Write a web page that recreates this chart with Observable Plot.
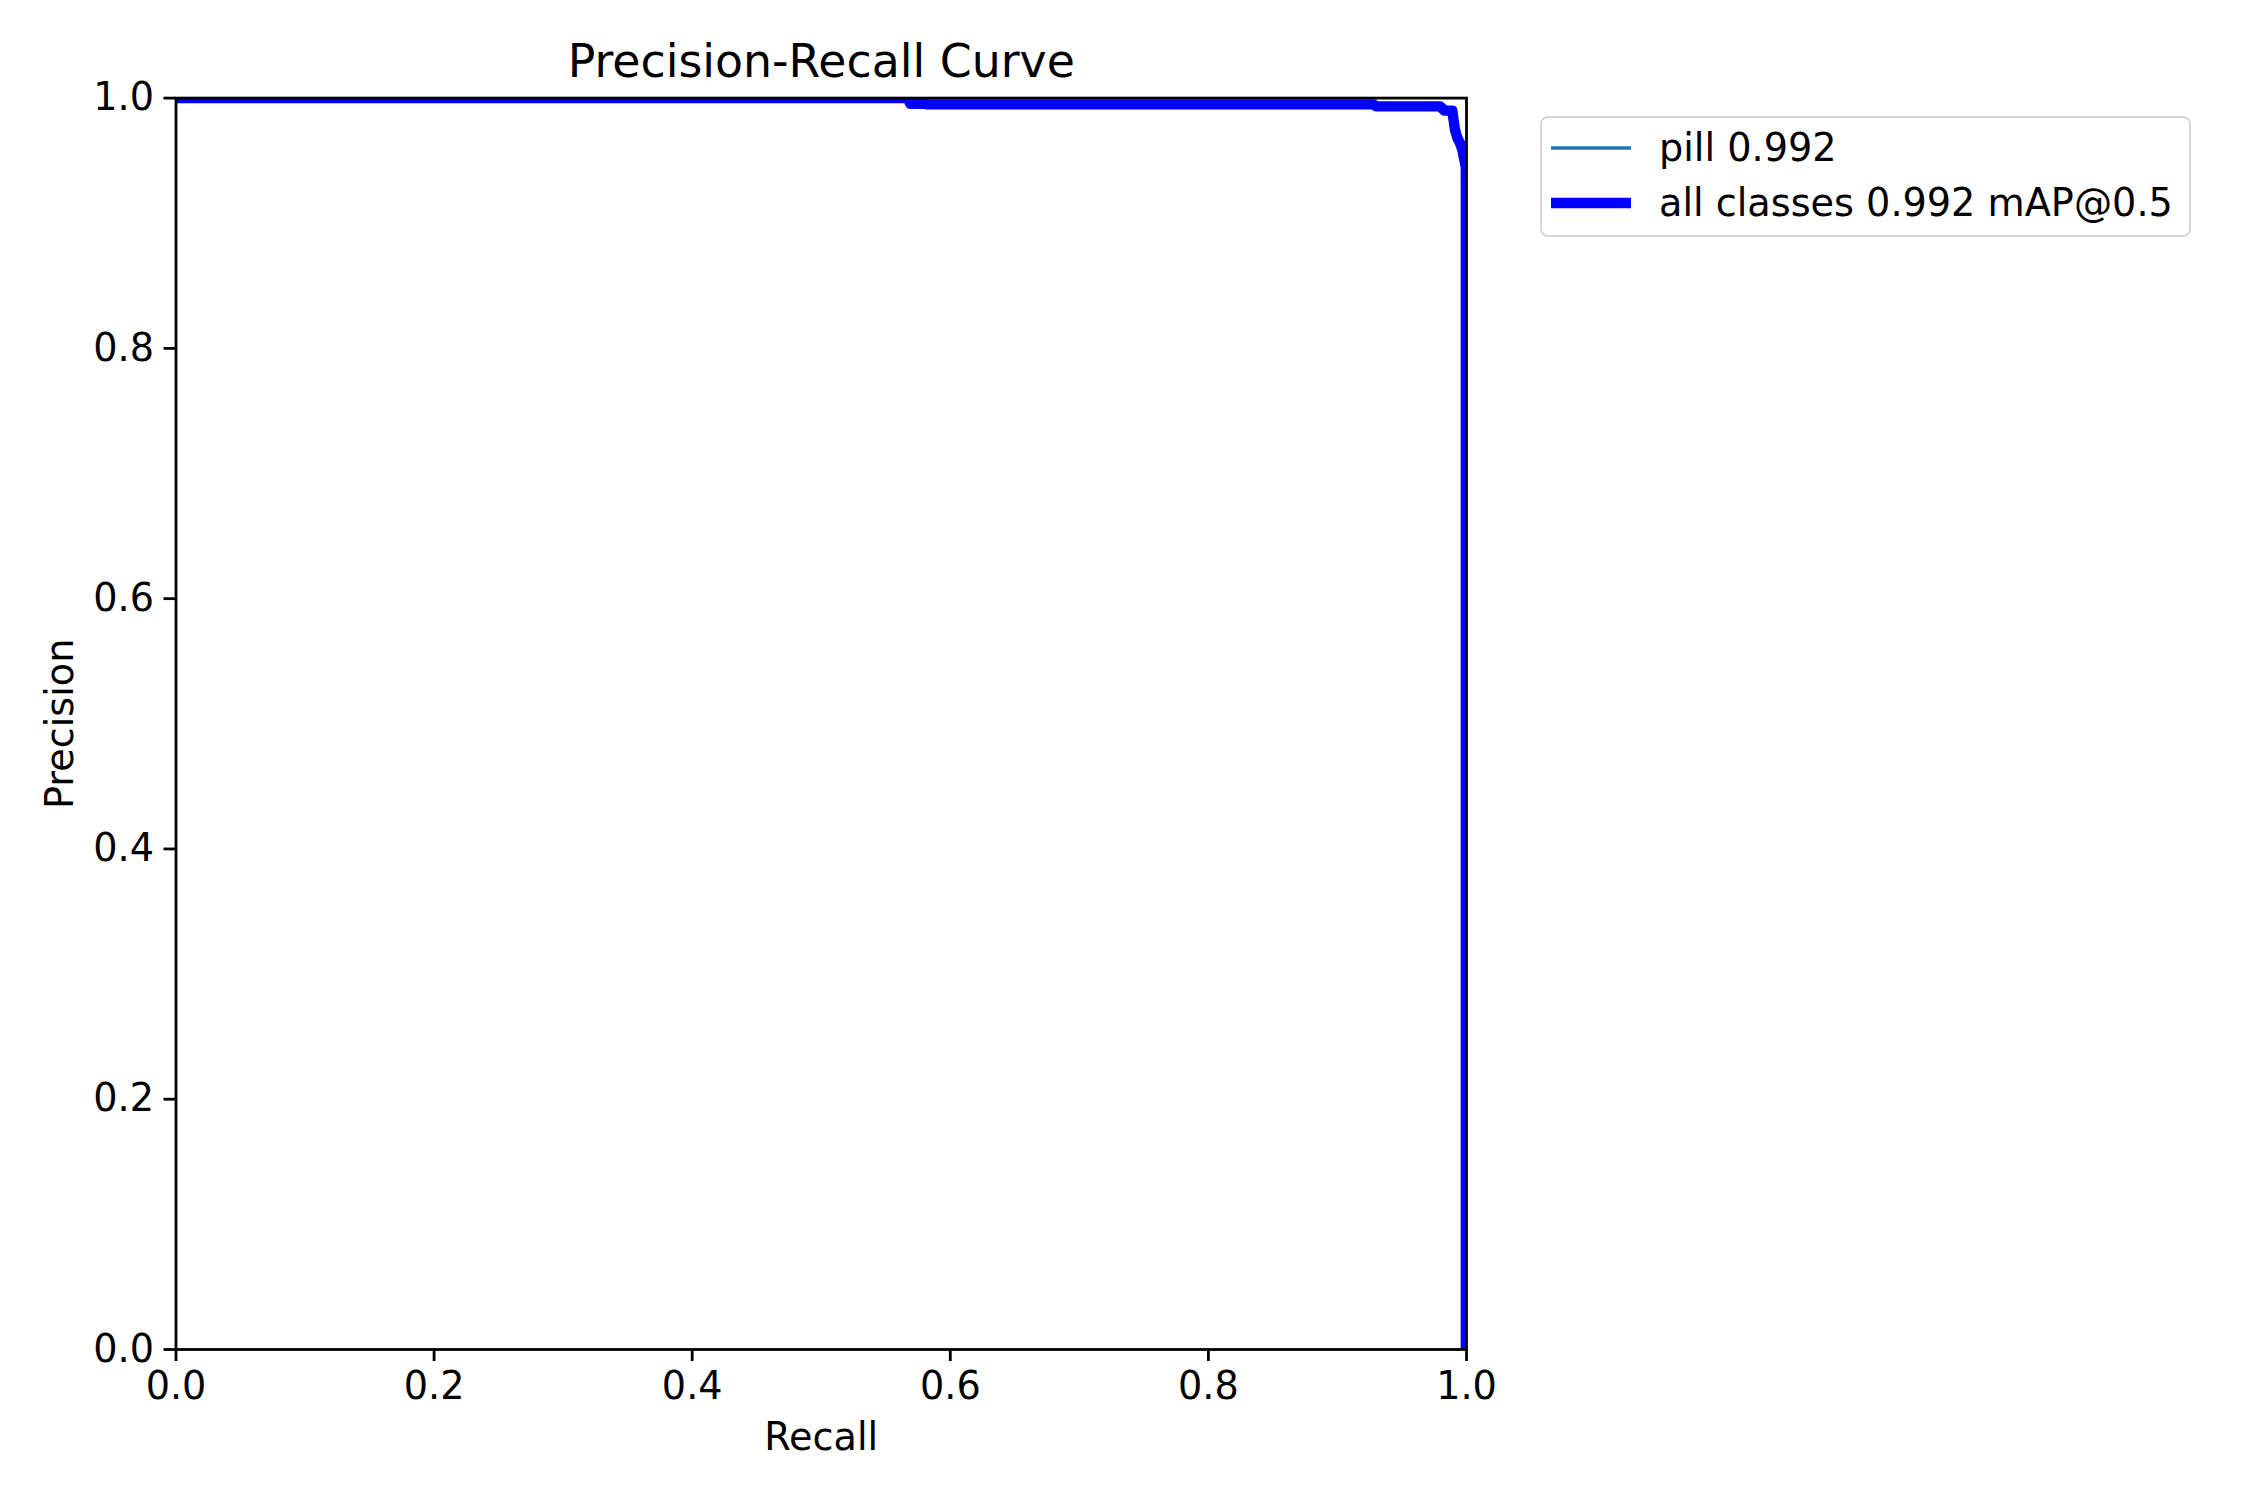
<!DOCTYPE html>
<html>
<head>
<meta charset="utf-8">
<script src="https://cdn.jsdelivr.net/npm/d3@7"></script>
<script src="https://cdn.jsdelivr.net/npm/@observablehq/plot@0.6"></script>
<style>
  html, body { margin: 0; padding: 0; background: white; }
  #wrap { position: relative; width: 2250px; height: 1500px; font-family: "DejaVu Sans", sans-serif; }
  #legend {
    position: absolute; left: 1540px; top: 116px; width: 647px; height: 117px;
    border: 2.8px solid #d6d6d6; border-radius: 8px; background: rgba(255,255,255,0.8);
  }
  .entry { position: absolute; left: 0; height: 50px; display: flex; align-items: center; font-size: 38.2px; color: black; white-space: nowrap; }
  .entry svg { margin-left: 9px; margin-right: 28px; }
</style>
</head>
<body>
<div id="wrap"></div>
<script>
// ---- data ----
const recall    = [0, 0.567, 0.569, 0.580, 0.582, 0.928, 0.930, 0.9795, 0.983, 0.989, 0.991, 0.993, 0.995, 0.997, 0.998, 0.9995, 0.9995];
const precision = [1, 1, 0.9955, 0.9955, 0.995, 0.995, 0.9934, 0.9934, 0.990, 0.990, 0.975, 0.968, 0.964, 0.958, 0.952, 0.945, 0];
const seriesNames = ["pill 0.992", "all classes 0.992 mAP@0.5"];
const seriesColors = ["#1f77b4", "#0000ff"];
const seriesWidths = [3.5, 10.4];
const xTicks = [0, 0.2, 0.4, 0.6, 0.8, 1.0];
const yTicks = [0, 0.2, 0.4, 0.6, 0.8, 1.0];
const titleText = "Precision-Recall Curve";
const xLabel = "Recall";
const yLabel = "Precision";

const rows = recall.map((r, i) => ({recall: r, precision: precision[i]}));
const fmt = d3.format(".1f");

const chart = Plot.plot({
  width: 2250,
  height: 1500,
  marginLeft: 175.5,
  marginRight: 784,
  marginTop: 97.6,
  marginBottom: 151,
  x: {domain: [0, 1]},
  y: {domain: [0, 1]},
  style: {fontFamily: "DejaVu Sans", fontSize: "38.2px", background: "white", color: "black"},
  marks: [
    Plot.line(rows, {x: "recall", y: "precision", stroke: seriesColors[0], strokeWidth: seriesWidths[0], clip: true, strokeLinejoin: "round"}),
    Plot.line(rows, {x: "recall", y: "precision", stroke: seriesColors[1], strokeWidth: seriesWidths[1], clip: true, strokeLinejoin: "round"}),
    Plot.frame({stroke: "black", strokeWidth: 2.8}),
    Plot.axisX({ticks: xTicks, tickFormat: fmt, tickSize: 12, tickPadding: 10, strokeWidth: 2.8, label: null, fontSize: 38.2}),
    Plot.axisY({ticks: yTicks, tickFormat: fmt, tickSize: 12, tickPadding: 10, strokeWidth: 2.8, label: null, fontSize: 38.2}),
    Plot.text([titleText], {frameAnchor: "top", dy: -36, fontSize: 45.8, lineAnchor: "middle"}),
    Plot.text([xLabel], {frameAnchor: "bottom", dy: 88, fontSize: 38.2, lineAnchor: "middle"}),
    Plot.text([yLabel], {frameAnchor: "left", dx: -115.5, rotate: -90, fontSize: 38.2, lineAnchor: "middle", textAnchor: "middle"})
  ]
});

const wrap = document.getElementById("wrap");
wrap.appendChild(chart);

const legend = document.createElement("div");
legend.id = "legend";
seriesNames.forEach((name, i) => {
  const e = document.createElement("div");
  e.className = "entry";
  e.style.top = (i === 0 ? 5 : 60) + "px";
  const w = 80;
  e.innerHTML = `<svg width="${w}" height="14"><line x1="${seriesWidths[i]/2}" x2="${w - seriesWidths[i]/2}" y1="7" y2="7" stroke="${seriesColors[i]}" stroke-width="${seriesWidths[i]}" stroke-linecap="square"/></svg><span>${name}</span>`;
  legend.appendChild(e);
});
wrap.appendChild(legend);
</script>
</body>
</html>
